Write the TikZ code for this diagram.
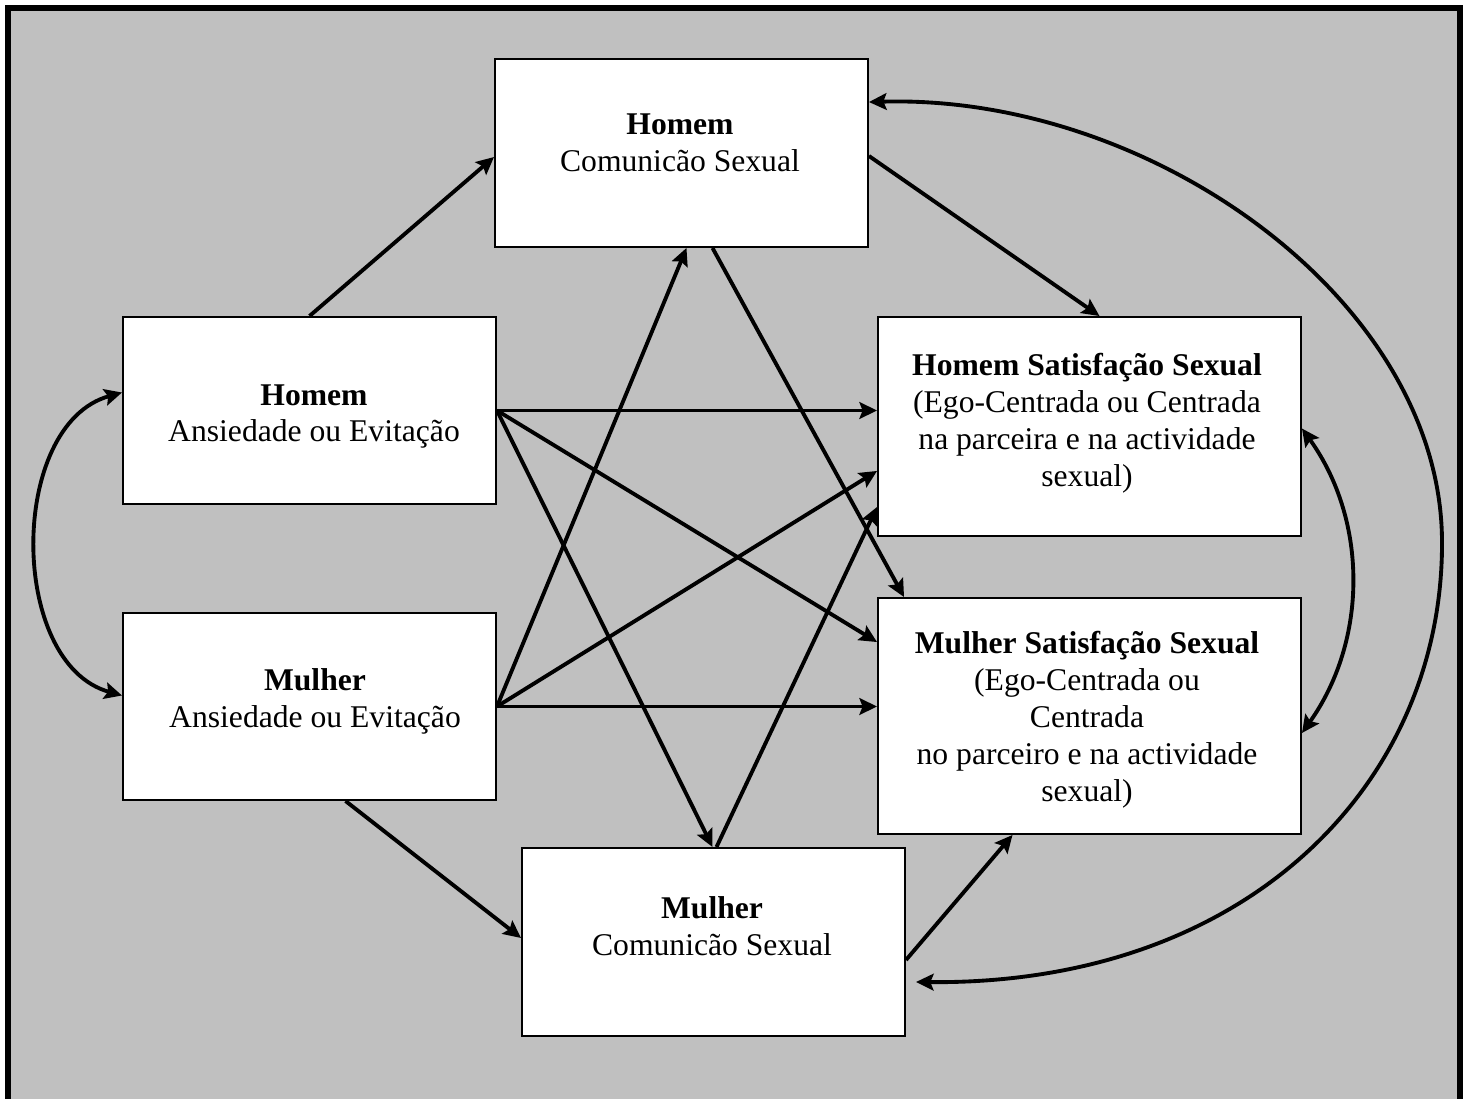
\documentclass[tikz,border=0pt]{standalone}
\usepackage{fontspec}
\setmainfont{Liberation Serif}
\usetikzlibrary{arrows.meta,calc,fit}
\definecolor{panel}{RGB}{192,192,192}
\begin{document}
\begin{tikzpicture}[x=0.02cm,y=-0.02cm,
  box/.style={draw=black,line width=1.1pt,fill=white,inner sep=0pt},
  txt/.style={align=center,font=\fontsize{18}{21}\selectfont,inner sep=0pt},
  link/.style={line width=2.2pt,-{Stealth[length=10pt,width=9.5pt,inset=1.8pt]}},
  twoway/.style={line width=2.2pt,{Stealth[length=10pt,width=9.5pt,inset=1.8pt]}-{Stealth[length=10pt,width=9.5pt,inset=1.8pt]}}]

% page and grey panel with its frame
\useasboundingbox (0,0) rectangle (1468,1099);
\fill[white] (0,0) rectangle (1468,1099);
\fill[panel] (8,8) rectangle (1460,1099);
\draw[line width=3.4pt] (8,1105) -- (8,8) -- (1460,8) -- (1460,1105);

% boxes
\node[box,fit={(495,59) (868,247)}] (HC) {};
\node[box,fit={(123,317) (496,504)}] (HA) {};
\node[box,fit={(123,613) (496,800)}] (MA) {};
\node[box,fit={(522,848) (905,1036)}] (MC) {};
\node[box,fit={(878,317) (1301,536)}] (HS) {};
\node[box,fit={(878,598) (1301,834)}] (MS) {};

% box texts
\node[txt] (tHC) at (680,143) {\textbf{Homem}\\Comunicão Sexual};
\node[txt] (tHA) at (314,416.5) {\textbf{Homem}\\Ansiedade ou Evitação};
\node[txt] (tMA) at (315,701.5) {\textbf{Mulher}\\Ansiedade ou Evitação};
\node[txt] (tMC) at (712,926.5) {\textbf{Mulher}\\Comunicão Sexual};
\node[txt] (tHS) at (1087,423) {\textbf{Homem Satisfação Sexual}\\(Ego-Centrada ou Centrada\\na parceira e na actividade\\sexual)};
\node[txt] (tMS) at (1087,719.5) {\textbf{Mulher Satisfação Sexual}\\(Ego-Centrada ou\\Centrada\\no parceiro e na actividade\\sexual)};

% paths from Homem anxiety
\draw[link] (HA.north) -- ($(HC.west)+(0,4)$);
\draw[link] (HA.east) -- (HA.east -| HS.west);
\draw[link] (HA.east) -- ($(MS.north west)+(0,45)$);
\draw[link] (HA.east) -- ($(MC.north)+(-1,0)$);

% paths from Mulher anxiety
\draw[link] (MA.east) -- ($(HS.south west)+(0,-66)$);
\draw[link] (MA.east) -- ($(HC.south)+(5,0)$);
\draw[link] (MA.east) -- (MA.east -| MS.west);
\draw[link] ($(MA.south)+(36,0)$) -- ($(MC.west)+(0,-4)$);

% paths from communication
\draw[link] ($(HC.south)+(31,0)$) -- ($(MS.north west)+(27,0)$);
\draw[link] ($(MC.north)+(3,0)$) -- ($(HS.south west)+(0,-30)$);
\draw[link] ($(HC.east)+(0,3)$) -- ($(HS.north)+(10,0)$);
\draw[link] ($(MC.east)+(0,18)$) -- ($(MS.south)+(-77,0)$);

% correlations
\draw[twoway] ($(HA.west)+(0,-18)$) .. controls +(-114,32) and +(-114,-32) .. ($(MA.west)+(0,-11)$);
\draw[twoway] ($(HS.east)+(0,2)$) .. controls +(66,92) and +(66,-93) .. ($(MS.east)+(0,17)$);
\coordinate (bend) at (1442,540);
\draw[twoway] ($(HC.north east)+(0,44)$) .. controls +(282,-8) and +(-2,-240) .. (bend)
  .. controls +(2,240) and +(335,3) .. ($(MC.east)+(10,40)$);
\end{tikzpicture}
\end{document}
